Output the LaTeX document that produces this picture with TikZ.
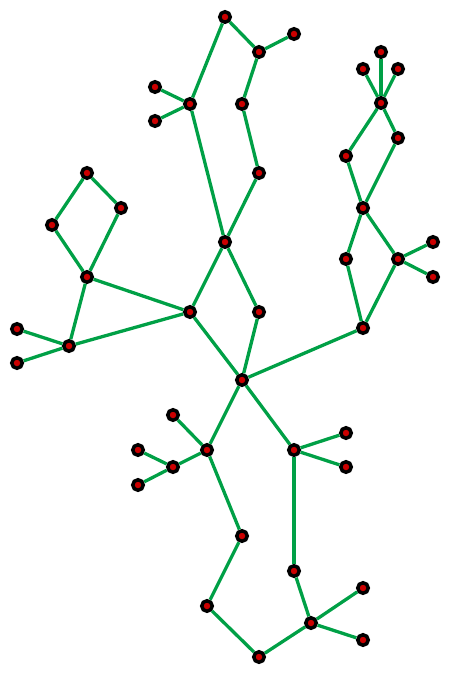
\documentclass[tikz,border=0pt]{standalone}
\usepackage{xcolor}
\usepackage{tikz}

\begin{document}
\begin{tikzpicture}[
    x=0.02cm, y=-0.02cm,
    vertex/.style={circle, draw=black, fill=nodered, line width=0.07cm, minimum size=0.21cm, inner sep=0pt},
    edge/.style={draw=edgegreen, line width=0.066cm}
]

% Colors
\definecolor{nodered}{RGB}{204,0,0}
\definecolor{edgegreen}{RGB}{0,160,70}

\useasboundingbox (0,0) rectangle (450,675);

% Top branch
\node[vertex] (v1) at (225,17) {};
\node[vertex] (v2) at (259,52) {};
\node[vertex] (v3) at (294,34) {};
\node[vertex] (v4) at (190,104) {};
\node[vertex] (v5) at (155,87) {};
\node[vertex] (v6) at (155,121) {};
\node[vertex] (v7) at (242,104) {};
\node[vertex] (v8) at (259,173) {};
\node[vertex] (v9) at (225,242) {};
\node[vertex] (v10) at (190,312) {};
\node[vertex] (v11) at (259,312) {};
\node[vertex] (v12) at (242,380) {};

% Left branch
\node[vertex] (v13) at (87,173) {};
\node[vertex] (v14) at (121,208) {};
\node[vertex] (v15) at (52,225) {};
\node[vertex] (v16) at (87,277) {};
\node[vertex] (v17) at (69,346) {};
\node[vertex] (v18) at (17,329) {};
\node[vertex] (v19) at (17,363) {};

% Right branch
\node[vertex] (v20) at (381,52) {};
\node[vertex] (v21) at (363,69) {};
\node[vertex] (v22) at (398,69) {};
\node[vertex] (v23) at (381,103) {};
\node[vertex] (v24) at (346,156) {};
\node[vertex] (v25) at (398,138) {};
\node[vertex] (v26) at (363,208) {};
\node[vertex] (v27) at (346,259) {};
\node[vertex] (v28) at (398,259) {};
\node[vertex] (v29) at (433,242) {};
\node[vertex] (v30) at (433,277) {};
\node[vertex] (v31) at (363,328) {};

% Bottom branch
\node[vertex] (v32) at (207,450) {};
\node[vertex] (v33) at (173,415) {};
\node[vertex] (v34) at (173,467) {};
\node[vertex] (v35) at (138,450) {};
\node[vertex] (v36) at (138,485) {};
\node[vertex] (v37) at (242,536) {};
\node[vertex] (v38) at (207,606) {};
\node[vertex] (v39) at (259,657) {};
\node[vertex] (v40) at (311,623) {};
\node[vertex] (v41) at (363,588) {};
\node[vertex] (v42) at (363,640) {};
\node[vertex] (v43) at (294,571) {};
\node[vertex] (v44) at (294,450) {};
\node[vertex] (v45) at (346,433) {};
\node[vertex] (v46) at (346,467) {};

% Edges
\draw[edge] (v1) -- (v2);
\draw[edge] (v2) -- (v3);
\draw[edge] (v1) -- (v4);
\draw[edge] (v4) -- (v5);
\draw[edge] (v4) -- (v6);
\draw[edge] (v2) -- (v7);
\draw[edge] (v7) -- (v8);
\draw[edge] (v8) -- (v9);
\draw[edge] (v4) -- (v9);
\draw[edge] (v9) -- (v10);
\draw[edge] (v9) -- (v11);
\draw[edge] (v10) -- (v12);
\draw[edge] (v11) -- (v12);
\draw[edge] (v10) -- (v16);
\draw[edge] (v10) -- (v17);

\draw[edge] (v13) -- (v14);
\draw[edge] (v13) -- (v15);
\draw[edge] (v15) -- (v16);
\draw[edge] (v14) -- (v16);
\draw[edge] (v16) -- (v17);
\draw[edge] (v17) -- (v18);
\draw[edge] (v17) -- (v19);

\draw[edge] (v20) -- (v23);
\draw[edge] (v21) -- (v23);
\draw[edge] (v22) -- (v23);
\draw[edge] (v23) -- (v24);
\draw[edge] (v23) -- (v25);
\draw[edge] (v24) -- (v26);
\draw[edge] (v25) -- (v26);
\draw[edge] (v26) -- (v27);
\draw[edge] (v26) -- (v28);
\draw[edge] (v28) -- (v29);
\draw[edge] (v28) -- (v30);
\draw[edge] (v27) -- (v31);
\draw[edge] (v28) -- (v31);
\draw[edge] (v31) -- (v12);

\draw[edge] (v12) -- (v32);
\draw[edge] (v12) -- (v44);
\draw[edge] (v32) -- (v33);
\draw[edge] (v32) -- (v34);
\draw[edge] (v34) -- (v35);
\draw[edge] (v34) -- (v36);
\draw[edge] (v32) -- (v37);
\draw[edge] (v37) -- (v38);
\draw[edge] (v38) -- (v39);
\draw[edge] (v39) -- (v40);
\draw[edge] (v40) -- (v41);
\draw[edge] (v40) -- (v42);
\draw[edge] (v40) -- (v43);
\draw[edge] (v43) -- (v44);
\draw[edge] (v44) -- (v45);
\draw[edge] (v44) -- (v46);

\end{tikzpicture}
\end{document}
